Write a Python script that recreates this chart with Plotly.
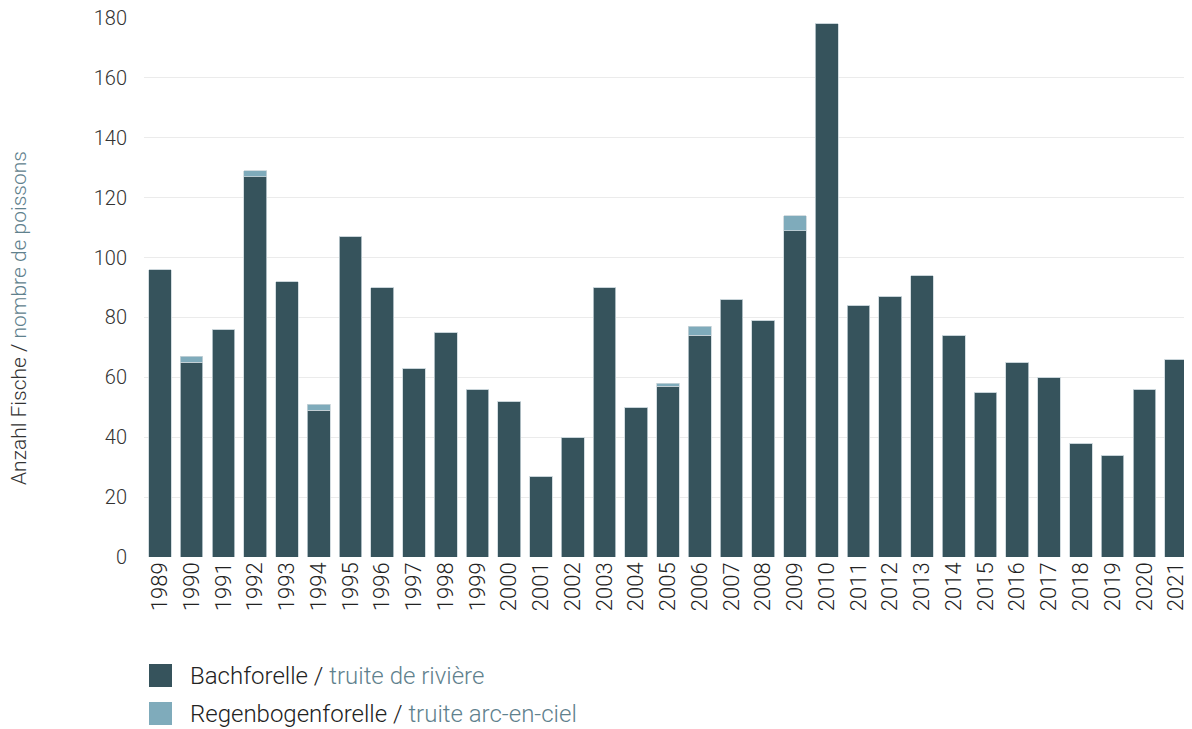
import plotly.graph_objects as go

years = [str(y) for y in range(1989, 2022)]
bachforelle = [96, 65, 76, 127, 92, 49, 107, 90, 63, 75, 56, 52, 27, 40, 90, 50, 57, 74,
               86, 79, 109, 178, 84, 87, 94, 74, 55, 65, 60, 38, 34, 56, 66]
regenbogen = [0, 2, 0, 2, 0, 2, 0, 0, 0, 0, 0, 0, 0, 0, 0, 0, 1, 3,
              0, 0, 5, 0, 0, 0, 0, 0, 0, 0, 0, 0, 0, 0, 0]
y_ticks = [0, 20, 40, 60, 80, 100, 120, 140, 160, 180]
series_names = ["Bachforelle", "Regenbogenforelle"]
series_names_fr = ["truite de rivière", "truite arc-en-ciel"]

DARK = "#36535c"
LIGHT = "#7fabbb"
SUB = "#5f818d"
FONT = "Roboto"

# figure geometry (page is offset by 8px body margin)
OFF = 8
W, H = 1192 - OFF, 729 - OFF
L, R, T, B = 136, 0, 10, 172
PW, PH = W - L - R, H - T - B


def px(xp):
    return (xp - OFF - L) / PW


def py(yp):
    return (H - B - (yp - OFF)) / PH


fig = go.Figure()
colors = [DARK, LIGHT]
for name, vals, col in zip(series_names, [bachforelle, regenbogen], colors):
    fig.add_trace(go.Bar(
        x=years, y=vals, name=name,
        marker=dict(color=col, line=dict(color="#c9d5d9", width=0.8)),
        showlegend=False,
    ))

shapes = []
annotations = []
for i, (de, fr, col) in enumerate(zip(series_names, series_names_fr, colors)):
    y0 = 664 + i * 38
    shapes.append(dict(
        type="rect", xref="paper", yref="paper",
        x0=px(149), x1=px(172), y0=py(y0), y1=py(y0 + 23),
        fillcolor=col, line=dict(width=0),
    ))
    annotations.append(dict(
        text="%s / <span style='color:%s'>%s</span>" % (de, SUB, fr),
        xref="paper", yref="paper", x=px(188), y=py(y0 + 11.5),
        xanchor="left", yanchor="middle", showarrow=False,
        font=dict(size=24, color="#222222"),
    ))

annotations.append(dict(
    text="Anzahl Fische / <span style='color:%s'>nombre de poissons</span>" % SUB,
    xref="paper", yref="paper", x=px(19), y=py(318),
    xanchor="center", yanchor="middle", textangle=-90, showarrow=False,
    font=dict(size=21, color="#333333"),
))

fig.update_layout(
    width=W, height=H,
    barmode="stack", bargap=0.285,
    plot_bgcolor="white", paper_bgcolor="white",
    margin=dict(l=L, r=R, t=T, b=B, autoexpand=False),
    font=dict(family=FONT, size=20, color="#333333", weight=300),
    xaxis=dict(
        type="category", tickangle=-90, showgrid=False, showline=False,
        ticks="", tickmode="array", tickvals=years, automargin=False,
        tickfont=dict(size=22, color="#222222"),
    ),
    yaxis=dict(
        range=[0, 180], tickvals=y_ticks, showgrid=True, gridcolor="#ebebeb",
        gridwidth=1, zeroline=False, ticks="", ticklabelstandoff=16, automargin=False,
        ticklabeloverflow="allow",
        tickfont=dict(size=20, color="#333333"),
    ),
    showlegend=False,
    shapes=shapes,
    annotations=annotations,
)

fig.write_html("out.html")
